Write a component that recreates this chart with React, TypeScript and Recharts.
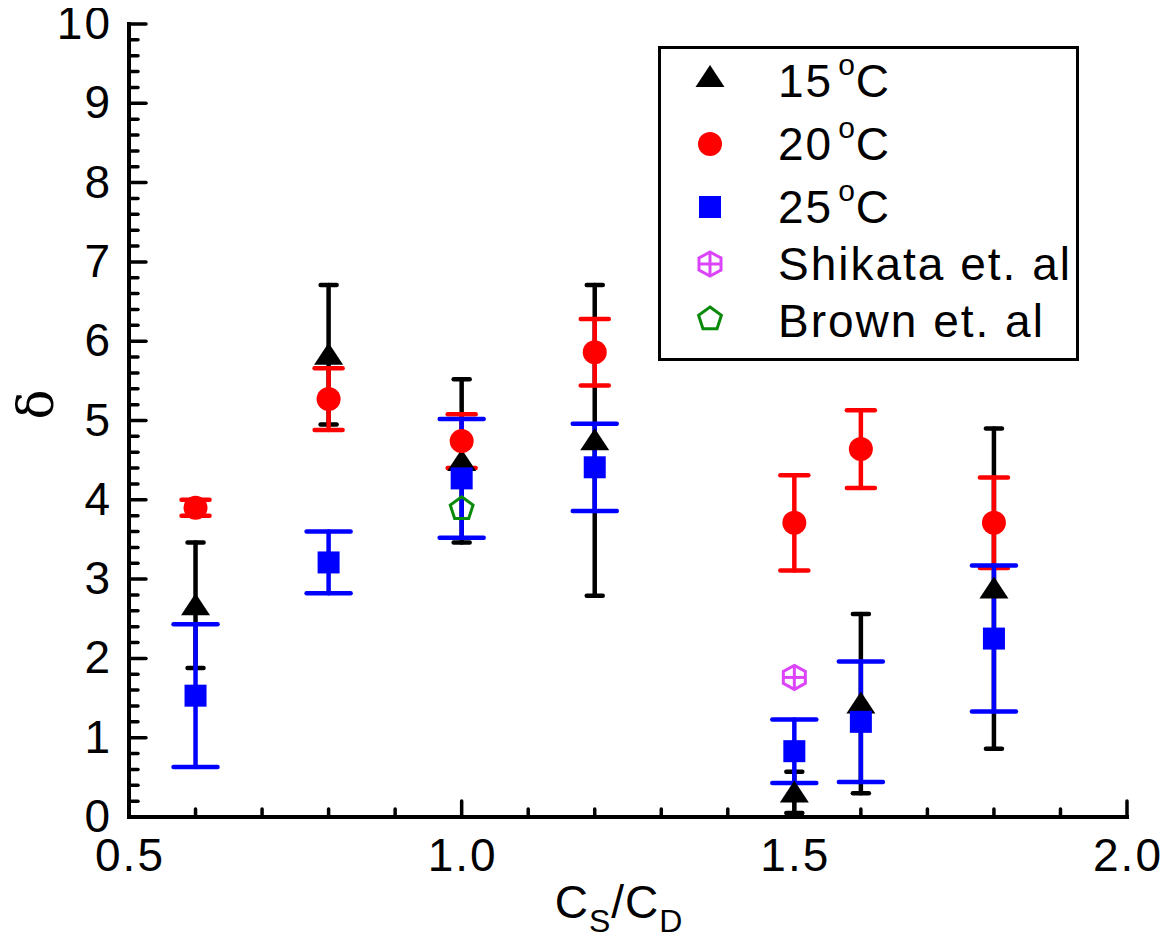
import React from 'react';
import { ScatterChart, Scatter, XAxis, YAxis, ErrorBar, Legend, Label } from 'recharts';

// ---- data ----
const xValues = [0.6, 0.8, 1.0, 1.2, 1.5, 1.6, 1.8];
const delta15 = [2.67, 5.83, 4.49, 4.75, 0.31, 1.43, 2.88];
const err15 = [0.79, 0.88, 1.03, 1.96, 0.26, 1.13, 2.02];
const delta20 = [3.9, 5.27, 4.74, 5.86, 3.71, 4.64, 3.71];
const err20 = [0.1, 0.39, 0.34, 0.42, 0.6, 0.49, 0.57];
const delta25 = [1.53, 3.21, 4.27, 4.41, 0.83, 1.2, 2.25];
const err25 = [0.9, 0.39, 0.75, 0.55, 0.4, 0.76, 0.92];
const shikataX = [1.5];
const shikataY = [1.76];
const brownX = [1.0];
const brownY = [3.9];

const xMajorTicks = [0.5, 1.0, 1.5, 2.0];
const xMinorStep = 0.1;
const yMajorTicks = [0, 1, 2, 3, 4, 5, 6, 7, 8, 9, 10];
const yMinorStep = 0.2;

const legendLabels = ['15', '20', '25', 'Shikata et. al', 'Brown et. al'];

// ---- derived tables ----
const xTicks = Array.from({ length: 16 }, (_, i) => +(0.5 + i * xMinorStep).toFixed(2));
const yTicks = Array.from({ length: 51 }, (_, i) => +(i * yMinorStep).toFixed(2));

const s15 = xValues.map((x, i) => ({ x, y: delta15[i], e: err15[i] }));
const s20 = xValues.map((x, i) => ({ x, y: delta20[i], e: err20[i] }));
const s25 = xValues.map((x, i) => ({ x, y: delta25[i], e: err25[i] }));
const sShikata = shikataX.map((x, i) => ({ x, y: shikataY[i] }));
const sBrown = brownX.map((x, i) => ({ x, y: brownY[i] }));

const FONT = '"Liberation Sans", Arial, sans-serif';
const MAGENTA = '#DC44FA';
const GREEN = '#0A8A0A';

const isMajor = (v: number, majors: number[]) => majors.some((m) => Math.abs(m - v) < 1e-6);

// ---- marker shapes ----
const triPath = (cx: number, cy: number) => `${cx},${cy - 12} ${cx + 14.5},${cy + 10} ${cx - 14.5},${cy + 10}`;
const Triangle = (p: any) => <polygon points={triPath(p.cx, p.cy)} fill="#000" />;
const Dot = (p: any) => <circle cx={p.cx} cy={p.cy} r={12} fill="#FF0000" />;
const Square = (p: any) => <rect x={p.cx - 11} y={p.cy - 11} width={22} height={22} fill="#0000FF" />;
const Hex = (p: any) => {
  const { cx, cy } = p;
  const pts = `${cx},${cy - 12} ${cx + 11},${cy - 6} ${cx + 11},${cy + 6} ${cx},${cy + 12} ${cx - 11},${cy + 6} ${cx - 11},${cy - 6}`;
  return (
    <g stroke={MAGENTA} strokeWidth={3} fill="none">
      <polygon points={pts} />
      <line x1={cx - 11} x2={cx + 11} y1={cy} y2={cy} />
      <line x1={cx} x2={cx} y1={cy - 12} y2={cy + 12} />
    </g>
  );
};
const Penta = (p: any) => {
  const { cx, cy } = p;
  const r = 12;
  const pts = [0, 1, 2, 3, 4]
    .map((k) => {
      const a = -Math.PI / 2 + (k * 2 * Math.PI) / 5;
      return `${cx + r * Math.cos(a)},${cy + 1 + r * Math.sin(a)}`;
    })
    .join(' ');
  return <polygon points={pts} fill="none" stroke={GREEN} strokeWidth={3} />;
};

// ---- ticks ----
const tickStyle = { fontFamily: FONT, fontSize: 46, letterSpacing: 2, fill: '#000' };
const LeftTick = (p: any) => {
  const v = p.payload.value;
  const maj = isMajor(v, yMajorTicks);
  return (
    <g>
      <line x1={p.x} x2={p.x + (maj ? 17 : 9)} y1={p.y} y2={p.y} stroke="#000" strokeWidth={3.5} strokeLinecap="round" />
      {maj && (
        <text x={p.x - 17} y={p.y + 15} textAnchor="end" style={tickStyle}>
          {String(v)}
        </text>
      )}
    </g>
  );
};
const RightTick = (p: any) => {
  const v = p.payload.value;
  const maj = isMajor(v, yMajorTicks);
  return <line x1={p.x} x2={p.x - (maj ? 17 : 9)} y1={p.y} y2={p.y} stroke="#000" strokeWidth={3.5} strokeLinecap="round" />;
};
const BottomTick = (p: any) => {
  const v = p.payload.value;
  const maj = isMajor(v, xMajorTicks);
  return (
    <g>
      <line x1={p.x} x2={p.x} y1={p.y} y2={p.y - (maj ? 16 : 8)} stroke="#000" strokeWidth={3.5} strokeLinecap="round" />
      {maj && (
        <text x={p.x + 1} y={p.y + 54} textAnchor="middle" style={tickStyle}>
          {v.toFixed(1)}
        </text>
      )}
    </g>
  );
};
const TopTick = (p: any) => {
  const v = p.payload.value;
  const maj = isMajor(v, xMajorTicks);
  return <line x1={p.x} x2={p.x} y1={p.y} y2={p.y + (maj ? 16 : 8)} stroke="#000" strokeWidth={3.5} strokeLinecap="round" />;
};

const axisLine = { stroke: '#000', strokeWidth: 4, strokeLinecap: 'square' as const };

const XTitle = (p: any) => {
  const vb = p.viewBox;
  const cx = vb.x + vb.width / 2 - 9;
  const y = vb.y + 101;
  return (
    <text x={cx} y={y} textAnchor="middle" style={{ fontFamily: FONT, fontSize: 46, letterSpacing: 1, fill: '#000' }}>
      <tspan>C</tspan>
      <tspan fontSize={32} dy={14}>S</tspan>
      <tspan dy={-14}>/C</tspan>
      <tspan fontSize={32} dy={14}>D</tspan>
    </text>
  );
};
const YTitle = (p: any) => {
  const vb = p.viewBox;
  const cx = 28;
  const cy = vb.y + vb.height / 2 - 16;
  return (
    <text
      x={cx}
      y={cy}
      transform={`rotate(-90 ${cx} ${cy})`}
      textAnchor="middle"
      dominantBaseline="central"
      style={{ fontFamily: '"DejaVu Serif", serif', fontSize: 50, fill: '#000' }}
    >
      δ
    </text>
  );
};

// ---- legend ----
const legendMarkers = [Triangle, Dot, Square, Hex, Penta];
const legendMarkerY = [31, 98, 161, 218, 272];
const legendBaseY = [51, 114, 177, 234, 291];
const renderLegend = () => (
  <svg width={424} height={318} style={{ display: 'block' }}>
    <rect x={1.5} y={1.5} width={418} height={312} fill="#fff" stroke="#000" strokeWidth={3} />
    {legendLabels.map((lab, i) => {
      const M = legendMarkers[i];
      const degree = i < 3;
      return (
        <g key={lab}>
          <M cx={52} cy={legendMarkerY[i]} />
          <text x={120} y={legendBaseY[i]} style={{ fontFamily: FONT, fontSize: 46, letterSpacing: 2, fill: '#000' }}>
            {degree ? (
              <>
                <tspan>{lab}</tspan>
                <tspan fontSize={30} dx={5} dy={-22}>o</tspan>
                <tspan dx={-1} dy={22}>C</tspan>
              </>
            ) : (
              lab
            )}
          </text>
        </g>
      );
    })}
  </svg>
);

export default function App() {
  return (
    <div style={{ width: 1160, height: 941 }}>
      <ScatterChart width={1160} height={941} margin={{ top: 16, right: 41, bottom: 0, left: 0 }}>
        <XAxis
          xAxisId="b"
          type="number"
          dataKey="x"
          domain={[0.5, 2]}
          ticks={xTicks}
          interval={0}
          orientation="bottom"
          height={132}
          tickSize={0}
          tickMargin={0}
          tickLine={false}
          axisLine={axisLine}
          tick={BottomTick}
          allowDataOverflow
        >
          <Label content={XTitle} />
        </XAxis>
        <XAxis
          xAxisId="t"
          type="number"
          domain={[0.5, 2]}
          ticks={xTicks}
          interval={0}
          orientation="top"
          height={0}
          tickSize={0}
          tickMargin={0}
          tickLine={false}
          axisLine={axisLine}
          tick={TopTick}
          allowDataOverflow
        />
        <YAxis
          yAxisId="l"
          type="number"
          dataKey="y"
          domain={[0, 10]}
          ticks={yTicks}
          interval={0}
          orientation="left"
          width={121}
          tickSize={0}
          tickMargin={0}
          tickLine={false}
          axisLine={axisLine}
          tick={LeftTick}
          allowDataOverflow
        >
          <Label content={YTitle} />
        </YAxis>
        <YAxis
          yAxisId="r"
          type="number"
          domain={[0, 10]}
          ticks={yTicks}
          interval={0}
          orientation="right"
          width={0}
          tickSize={0}
          tickMargin={0}
          tickLine={false}
          axisLine={axisLine}
          tick={RightTick}
          allowDataOverflow
        />
        <Legend
          layout="vertical"
          align="center"
          verticalAlign="middle"
          wrapperStyle={{ left: 650, top: 38, width: 424, height: 318 }}
          content={renderLegend}
        />
        <Scatter name="15" xAxisId="b" yAxisId="l" data={s15} shape={Triangle} isAnimationActive={false}>
          <ErrorBar dataKey="e" direction="y" width={8} stroke="#000" strokeWidth={4.5} strokeLinecap="round" isAnimationActive={false} />
        </Scatter>
        <Scatter name="20" xAxisId="b" yAxisId="l" data={s20} shape={Dot} isAnimationActive={false}>
          <ErrorBar dataKey="e" direction="y" width={14} stroke="#FF0000" strokeWidth={4.5} strokeLinecap="round" isAnimationActive={false} />
        </Scatter>
        <Scatter name="25" xAxisId="b" yAxisId="l" data={s25} shape={Square} isAnimationActive={false}>
          <ErrorBar dataKey="e" direction="y" width={22} stroke="#0000FF" strokeWidth={4.5} strokeLinecap="round" isAnimationActive={false} />
        </Scatter>
        <Scatter name="Shikata et. al" xAxisId="b" yAxisId="l" data={sShikata} shape={Hex} isAnimationActive={false} />
        <Scatter name="Brown et. al" xAxisId="b" yAxisId="l" data={sBrown} shape={Penta} isAnimationActive={false} />
      </ScatterChart>
    </div>
  );
}
